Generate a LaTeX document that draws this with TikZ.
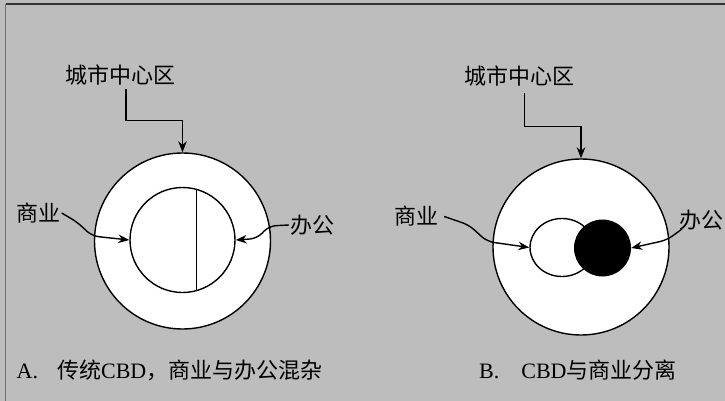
\documentclass[tikz,border=0pt]{standalone}
\usepackage{fontspec}
\setmainfont{Liberation Serif}
\newfontfamily\cjk{Noto Sans CJK SC}
\usetikzlibrary{arrows.meta,shapes.geometric}
\definecolor{bggray}{HTML}{BDBDBD}
\definecolor{edgegray}{HTML}{707070}
\tikzset{
  lbl/.style={inner sep=1pt, font=\cjk\fontsize{22}{26}\selectfont},
  captxt/.style={inner sep=0pt, anchor=west, font=\fontsize{22}{26}\selectfont},
  ring/.style={circle, draw, fill=white, line width=1.4pt, inner sep=0pt},
  arr/.style={-{Stealth[length=11pt,width=8.5pt]}, line width=1.4pt},
  bent/.style={arr, rounded corners=7pt},
}
\begin{document}
\begin{tikzpicture}[x=1pt,y=-1pt]
\useasboundingbox (0,0) rectangle (725,401);
\fill[bggray] (0,0) rectangle (725,401);
\draw[edgegray, line width=1.5pt] (5.5,401) -- (5.5,4);
\draw[black!80, line width=1.5pt] (5.5,4) -- (725,4);

% ---------- panel A ----------
\node[ring, minimum size=176pt] (outerA) at (182.5,241) {};
\node[ring, minimum size=105pt] (innerA) at (182.5,240) {};
\draw[line width=1.4pt] (innerA.75) -- (innerA.-75);
\node[lbl] (cityA) at (120.5,75.5) {城市中心区};
\node[lbl] (shangA) at (38.5,213) {商业};
\node[lbl] (gongA) at (312,225) {办公};
\coordinate (cA) at (126,89);
\draw[arr] (cA) |- (182.5,120.7) -- (outerA.north);
\draw[bent] (shangA.east) -- (77,222) -- (92,236) -- (innerA.west);
\draw[bent] (gongA.west) -- (269,226) -- (257,238.5) -- (innerA.east);

% ---------- panel B ----------
\node[ring, minimum size=176pt] (outerB) at (581,247) {};
\node[ellipse, draw, fill=white, line width=1.4pt, inner sep=0pt,
      minimum width=64pt, minimum height=58pt] (ellB) at (562,247.5) {};
\node[circle, fill=black, inner sep=0pt, minimum size=57pt] (blackB) at (602.5,248) {};
\node[lbl] (cityB) at (519.5,76.5) {城市中心区};
\node[lbl] (shangB) at (416,216.5) {商业};
\node[lbl] (gongB) at (701.5,220) {办公};
\coordinate (cB) at (524.5,93);
\coordinate (gB) at (682,229);
\draw[arr] (cB) |- (581,126.7) -- (outerB.north);
\draw[bent] ([xshift=5pt]shangB.east) -- (469,225) -- (487,241.5) -- (ellB.west);
\draw[bent] (gB) -- (667,240) -- (blackB.east);

% ---------- captions ----------
\node[captxt] (capA) at (16.5,370) {A.\hspace{19pt}{\cjk 传统}CBD{\cjk ，商业与办公混杂}};
\node[captxt] (capB) at (479,370) {B.\hspace{22pt}CBD{\cjk 与商业分离}};
\end{tikzpicture}
\end{document}
